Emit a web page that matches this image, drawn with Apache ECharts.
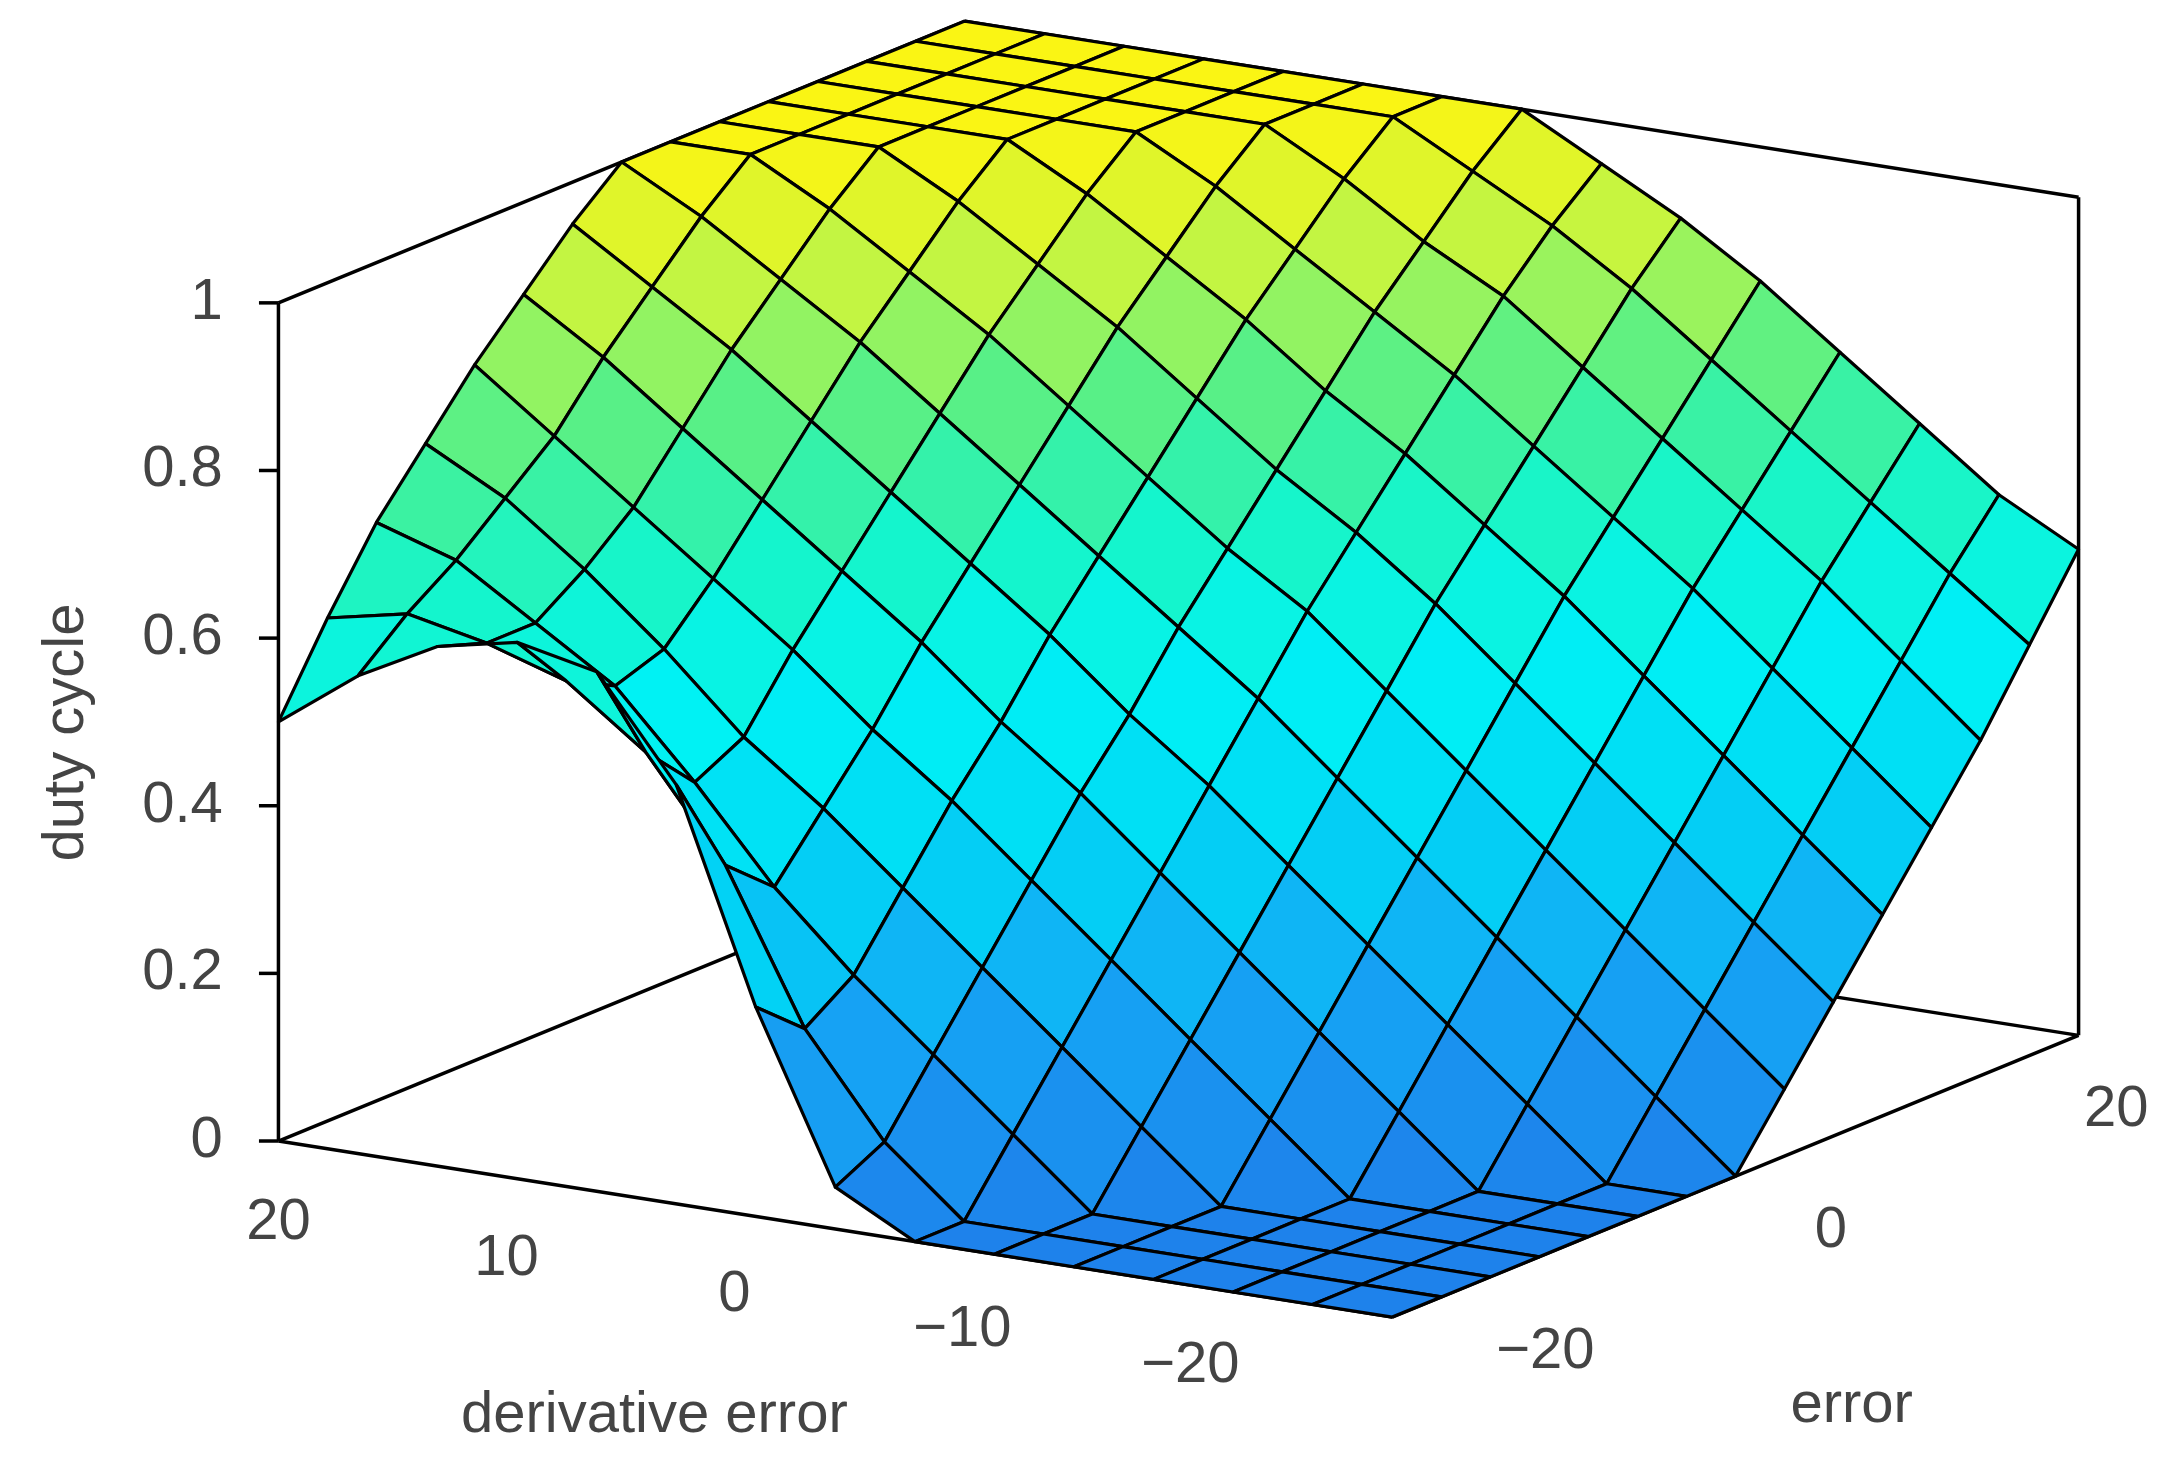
<!doctype html>
<html lang="en">
<head>
<meta charset="UTF-8">
<title>duty cycle surface</title>
<style>
  html, body { margin: 0; padding: 0; background: #fff; }
  #chart { width: 2183px; height: 1465px; }
</style>
</head>
<body>
<div id="chart"></div>
<script src="https://cdn.jsdelivr.net/npm/echarts@6/dist/echarts.min.js"></script>
<script>
// grid values: rows = derivative error (-20 .. 20), columns = error (-20 .. 20)
var derrValues = [-20, -17.14, -14.29, -11.43, -8.57, -5.71, -2.86, 0, 2.86, 5.71, 8.57, 11.43, 14.29, 17.14, 20];
var errValues = [-20, -17.14, -14.29, -11.43, -8.57, -5.71, -2.86, 0, 2.86, 5.71, 8.57, 11.43, 14.29, 17.14, 20];
var duty = [
  [0,0,0,0,0,0,0,0,.08,.16,.24,.32,.40,.49,.58],
  [0,0,0,0,0,0,0,.08,.16,.24,.32,.40,.48,.56,.63],
  [0,0,0,0,0,0,.08,.16,.24,.32,.40,.48,.56,.63,.70],
  [0,0,0,0,0,.08,.16,.24,.32,.40,.48,.56,.63,.70,.77],
  [0,0,0,0,.08,.16,.24,.32,.40,.48,.56,.63,.70,.77,.84],
  [0,0,0,.08,.16,.24,.32,.40,.48,.56,.63,.70,.77,.84,.90],
  [0,0,.08,.16,.24,.32,.40,.48,.56,.63,.70,.77,.84,.90,.95],
  [.05,.08,.16,.24,.32,.40,.47,.55,.62,.69,.76,.83,.89,.95,1],
  [.25,.20,.24,.32,.40,.47,.55,.62,.69,.76,.83,.89,.95,1,1],
  [.50,.38,.33,.40,.47,.55,.62,.69,.76,.83,.89,.95,1,1,1],
  [.62,.50,.44,.47,.55,.62,.69,.76,.83,.89,.95,1,1,1,1],
  [.64,.57,.54,.56,.62,.69,.76,.83,.89,.95,1,1,1,1,1],
  [.62,.60,.60,.64,.69,.76,.83,.89,.95,1,1,1,1,1,1],
  [.57,.62,.66,.71,.76,.83,.89,.95,1,1,1,1,1,1,1],
  [.50,.60,.69,.76,.83,.89,.95,1,1,1,1,1,1,1,1]
];
var zTicks = [0, 0.2, 0.4, 0.6, 0.8, 1];
var zTickLabels = ['0', '0.2', '0.4', '0.6', '0.8', '1'];
var derrTicks = [20, 10, 0, -10, -20];
var derrTickLabels = ['20', '10', '0', '\u221210', '\u221220'];
var errTicks = [-20, 0, 20];
var errTickLabels = ['\u221220', '0', '20'];

// projection (in reference pixel units, 1568 x 1040)
var F = [1000, 935], L = [200, 810], R = [1493, 735], ZH = 595;
function proj(derr, err, z) {
  var a = (err + 20) / 40, b = (derr + 20) / 40;
  return [F[0] + a * (R[0] - F[0]) + b * (L[0] - F[0]),
          F[1] + a * (R[1] - F[1]) + b * (L[1] - F[1]) - z * ZH];
}
// tick label rows (perspective makes them sit a little apart from the box edges)
function derrLabelPos(d) { var t = (20 - d) / 40; return [200 + t * 655, 868 + t * 102]; }
function errLabelPos(e) { var t = (e + 20) / 40; return [1110 + t * 410, 960 - t * 172]; }

var stops = [[0, [30,130,235]], [0.2, [20,168,245]], [0.35, [0,215,245]], [0.5, [0,242,245]],
             [0.62, [20,245,205]], [0.75, [80,240,140]], [0.88, [190,245,70]], [1, [250,245,20]]];
function colorOf(v) {
  for (var k = 1; k < stops.length; k++) {
    if (v <= stops[k][0]) {
      var t = (v - stops[k-1][0]) / (stops[k][0] - stops[k-1][0]);
      var c = stops[k-1][1].map(function (c0, m) { return Math.round(c0 + t * (stops[k][1][m] - c0)); });
      return 'rgb(' + c.join(',') + ')';
    }
  }
  return 'rgb(250,245,20)';
}

var quads = [];
for (var i = 0; i < derrValues.length - 1; i++)
  for (var j = 0; j < errValues.length - 1; j++) quads.push([i, j]);
quads.sort(function (p, q) { return (q[0] + q[1]) - (p[0] + p[1]); });

var chart = echarts.init(document.getElementById('chart'));
var font = '"Liberation Sans", Arial, sans-serif';
var txtColor = '#444';

function txt(api, pos, s, align, rot) {
  var p = api.coord(pos);
  return { type: 'text', x: p[0], y: p[1], rotation: rot || 0,
           style: { text: s, fill: txtColor, font: '58px ' + font, align: align || 'center', verticalAlign: 'middle' } };
}

function boxItem(params, api) {
  var lines = [
    [proj(20, -20, 0), proj(20, -20, 1)],
    [proj(-20, 20, 0), proj(-20, 20, 1)],
    [proj(20, -20, 1), proj(20, 20, 1)],
    [proj(20, 20, 1), proj(-20, 20, 1)],
    [proj(20, -20, 0), proj(20, 20, 0)],
    [proj(20, 20, 0), proj(-20, 20, 0)],
    [proj(20, -20, 0), proj(-20, -20, 0)],
    [proj(-20, -20, 0), proj(-20, 20, 0)]
  ];
  var children = lines.map(function (l) {
    var p1 = api.coord(l[0]), p2 = api.coord(l[1]);
    return { type: 'line', shape: { x1: p1[0], y1: p1[1], x2: p2[0], y2: p2[1] },
             style: { stroke: '#000', lineWidth: 3.5 } };
  });
  zTicks.forEach(function (z, k) {
    var b = proj(20, -20, z);
    var p = api.coord(b), q = api.coord([b[0] - 14, b[1]]);
    children.push({ type: 'line', shape: { x1: q[0], y1: q[1], x2: p[0], y2: p[1] }, style: { stroke: '#000', lineWidth: 3.5 } });
    children.push(txt(api, [b[0] - 40, b[1]], zTickLabels[k], 'right'));
  });
  derrTicks.forEach(function (d, k) { children.push(txt(api, derrLabelPos(d), derrTickLabels[k])); });
  errTicks.forEach(function (e, k) { children.push(txt(api, errLabelPos(e), errTickLabels[k])); });
  children.push(txt(api, [470, 1005], 'derivative error'));
  children.push(txt(api, [1330, 998], 'error'));
  children.push(txt(api, [48, 520], 'duty cycle', 'center', Math.PI / 2));
  return { type: 'group', children: children };
}

function quadItem(params, api) {
  var i = api.value(0), j = api.value(1);
  var corners = [[i, j], [i + 1, j], [i + 1, j + 1], [i, j + 1]];
  var sum = 0;
  var pts = corners.map(function (c) {
    sum += duty[c[0]][c[1]];
    return api.coord(proj(derrValues[c[0]], errValues[c[1]], duty[c[0]][c[1]]));
  });
  return { type: 'polygon', shape: { points: pts },
           style: { fill: colorOf(sum / 4), stroke: '#000', lineWidth: 3.2, lineJoin: 'round' } };
}

chart.setOption({
  animation: false,
  grid: { left: 0, right: 0, top: 0, bottom: 0 },
  xAxis: { type: 'value', min: 0, max: 1568, show: false },
  yAxis: { type: 'value', min: 0, max: 1040, inverse: true, show: false },
  series: [
    { type: 'custom', renderItem: boxItem, data: [[0, 0]], z: 1, silent: true },
    { type: 'custom', renderItem: quadItem, data: quads, z: 2, silent: true }
  ]
});
</script>
</body>
</html>
